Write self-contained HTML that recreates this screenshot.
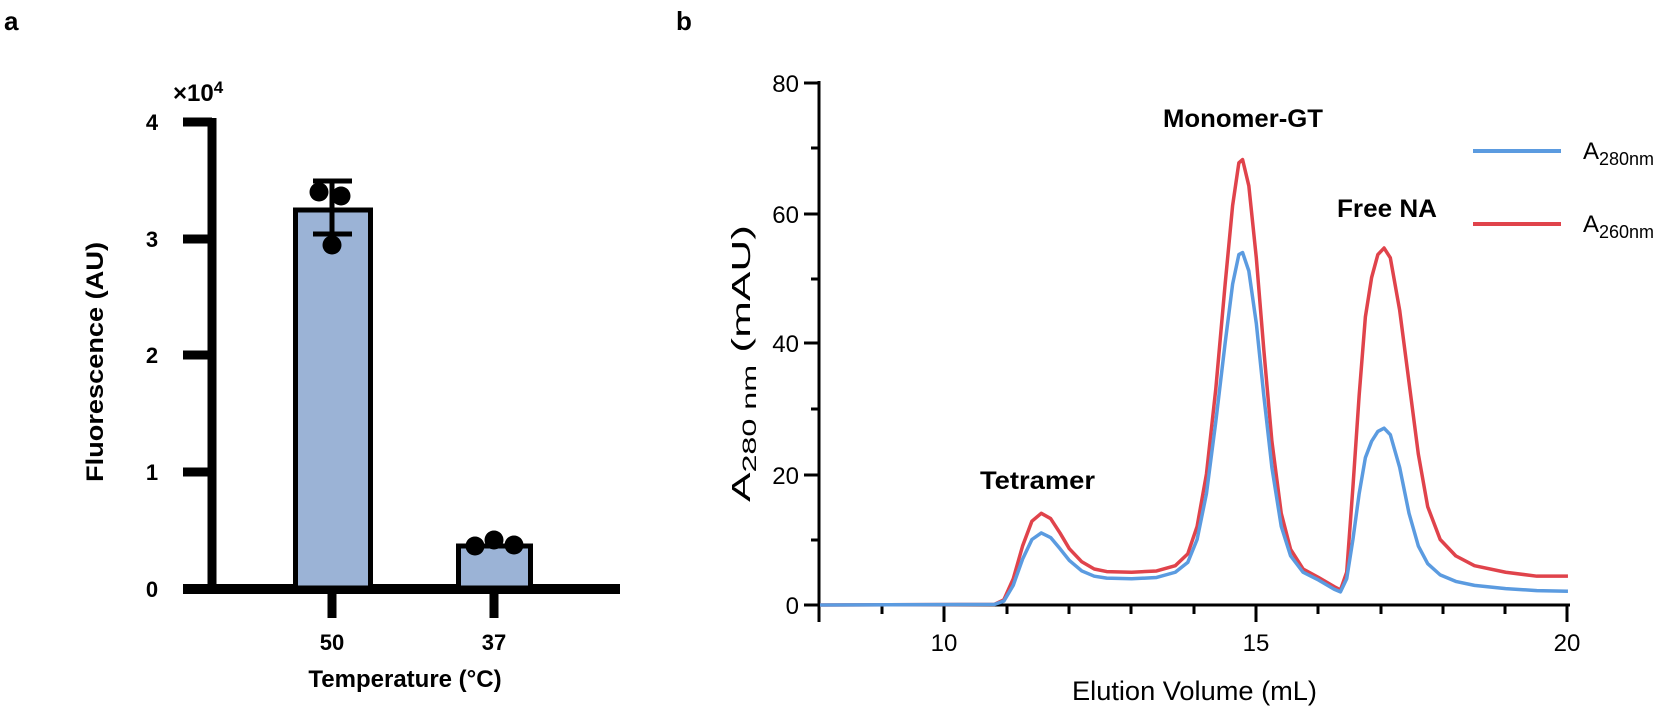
<!DOCTYPE html>
<html><head><meta charset="utf-8"><style>
html,body{margin:0;padding:0;background:#fff;}
svg{display:block;}
text{font-family:"Liberation Sans",Arial,sans-serif;}
.b{font-weight:bold;}
.n{font-family:"Liberation Sans Narrow","Liberation Sans",Arial,sans-serif;}
</style></head><body>
<svg width="1668" height="706" viewBox="0 0 1668 706" xmlns="http://www.w3.org/2000/svg">
<text x="4" y="30" class="b" font-size="26">a</text>
<text x="676" y="30" class="b" font-size="26">b</text>

<text x="173" y="101" class="b" font-size="24">×10<tspan font-size="17" dy="-8">4</tspan></text>
<g stroke="#000" stroke-width="9" fill="none">
  <line x1="212" y1="118" x2="212" y2="594"/>
  <line x1="183" y1="589" x2="620" y2="589" stroke-width="10"/>
  <line x1="183" y1="122" x2="212" y2="122"/>
  <line x1="183" y1="239" x2="212" y2="239"/>
  <line x1="183" y1="355" x2="212" y2="355"/>
  <line x1="183" y1="472" x2="212" y2="472"/>
  <line x1="332" y1="594" x2="332" y2="618"/>
  <line x1="494" y1="594" x2="494" y2="618"/>
</g>
<g class="b" font-size="22" text-anchor="middle">
  <text x="152" y="130">4</text>
  <text x="152" y="247">3</text>
  <text x="152" y="363">2</text>
  <text x="152" y="480">1</text>
  <text x="152" y="597">0</text>
  <text x="332" y="650">50</text>
  <text x="494" y="650">37</text>
  <text x="405" y="687" font-size="24">Temperature (°C)</text>
  <text transform="translate(103,362) rotate(-90)" font-size="24" textLength="240" lengthAdjust="spacingAndGlyphs">Fluorescence (AU)</text>
</g>
<rect x="295.5" y="210" width="75" height="378" fill="#9bb3d6" stroke="#000" stroke-width="5"/>
<rect x="458.5" y="546" width="72" height="42" fill="#9bb3d6" stroke="#000" stroke-width="5"/>
<g stroke="#000" stroke-width="5">
  <line x1="332" y1="181" x2="332" y2="234"/>
  <line x1="313" y1="181" x2="352" y2="181"/>
  <line x1="313" y1="234" x2="352" y2="234"/>
</g>
<g fill="#000">
  <circle cx="319" cy="192" r="9.5"/>
  <circle cx="341" cy="196" r="9.5"/>
  <circle cx="332" cy="245" r="9.5"/>
  <circle cx="475" cy="546" r="9.5"/>
  <circle cx="494" cy="540" r="9.5"/>
  <circle cx="514" cy="545" r="9.5"/>
</g>

<g stroke="#000" stroke-width="3" fill="none">
  <line x1="819" y1="81" x2="819" y2="622"/>
  <line x1="819" y1="605" x2="1570" y2="605"/>
  <line x1="804" y1="83" x2="819" y2="83"/>
  <line x1="811" y1="148" x2="819" y2="148"/>
  <line x1="804" y1="214" x2="819" y2="214"/>
  <line x1="811" y1="279" x2="819" y2="279"/>
  <line x1="804" y1="343" x2="819" y2="343"/>
  <line x1="811" y1="409" x2="819" y2="409"/>
  <line x1="804" y1="475" x2="819" y2="475"/>
  <line x1="811" y1="540" x2="819" y2="540"/>
  <line x1="804" y1="605" x2="819" y2="605"/>
  <line x1="882" y1="605" x2="882" y2="614"/>
  <line x1="944" y1="605" x2="944" y2="622"/>
  <line x1="1007" y1="605" x2="1007" y2="614"/>
  <line x1="1069" y1="605" x2="1069" y2="614"/>
  <line x1="1131" y1="605" x2="1131" y2="614"/>
  <line x1="1194" y1="605" x2="1194" y2="614"/>
  <line x1="1256" y1="605" x2="1256" y2="622"/>
  <line x1="1318" y1="605" x2="1318" y2="614"/>
  <line x1="1381" y1="605" x2="1381" y2="614"/>
  <line x1="1443" y1="605" x2="1443" y2="614"/>
  <line x1="1505" y1="605" x2="1505" y2="614"/>
  <line x1="1567" y1="605" x2="1567" y2="622"/>
</g>
<g class="n" font-size="24" text-anchor="end">
  <text x="799" y="92">80</text>
  <text x="799" y="223">60</text>
  <text x="799" y="352">40</text>
  <text x="799" y="484">20</text>
  <text x="799" y="614">0</text>
</g>
<g class="n" font-size="24" text-anchor="middle">
  <text x="944" y="651">10</text>
  <text x="1256" y="651">15</text>
  <text x="1567" y="651">20</text>
</g>
<text x="1072" y="700" font-size="27" textLength="245" lengthAdjust="spacingAndGlyphs">Elution Volume (mL)</text>
<text transform="translate(750,502) rotate(-90)" font-size="26" textLength="277" lengthAdjust="spacingAndGlyphs">A<tspan font-size="19" dy="6">280 nm</tspan><tspan dy="-6"> (mAU)</tspan></text>

<g class="b" font-size="25">
  <text x="980" y="489" textLength="115" lengthAdjust="spacingAndGlyphs">Tetramer</text>
  <text x="1163" y="127" textLength="160" lengthAdjust="spacingAndGlyphs">Monomer-GT</text>
  <text x="1337" y="217" textLength="100" lengthAdjust="spacingAndGlyphs">Free NA</text>
</g>

<g transform="translate(820,605) scale(62.33,-6.55)" fill="none" stroke-linejoin="round">
<polyline vector-effect="non-scaling-stroke" stroke="#e0434b" stroke-width="3.5" points="
0,0 2.8,0.1 2.95,0.8 3.1,4 3.25,9 3.4,12.8 3.55,14 3.7,13.2 3.85,11 4.0,8.6 4.2,6.6 4.4,5.5 4.6,5.1 5.0,5.0 5.4,5.2 5.7,6.0 5.9,7.8 6.05,12 6.2,20 6.35,33 6.5,49 6.62,61 6.72,67.5 6.78,68 6.88,64 7.0,53 7.12,39 7.25,25 7.4,14 7.55,8.5 7.75,5.5 8.0,4.2 8.25,2.8 8.35,2.3 8.45,5 8.55,18 8.65,32 8.75,44 8.85,50 8.95,53.5 9.05,54.5 9.15,53 9.3,45 9.45,34 9.6,23 9.75,15 9.95,10 10.2,7.5 10.5,6 11.0,5 11.5,4.4 12,4.4"/>
<polyline vector-effect="non-scaling-stroke" stroke="#5b9be0" stroke-width="3.5" points="
0,0 2.8,0.1 2.95,0.6 3.1,3 3.25,7 3.4,10 3.55,11 3.7,10.3 3.85,8.6 4.0,6.8 4.2,5.2 4.4,4.4 4.6,4.1 5.0,4.0 5.4,4.2 5.7,5.0 5.9,6.5 6.05,10 6.2,17 6.35,28 6.5,40 6.62,49 6.72,53.5 6.78,53.8 6.88,51 7.0,43 7.12,32 7.25,21 7.4,12 7.55,7.5 7.75,5 8.0,3.8 8.25,2.4 8.35,2.0 8.45,4 8.55,10 8.65,17 8.75,22.5 8.85,25 8.95,26.5 9.05,27 9.15,26 9.3,21 9.45,14 9.6,9 9.75,6.3 9.95,4.6 10.2,3.6 10.5,3.0 11.0,2.5 11.5,2.2 12,2.1"/>
</g>

<line x1="1473" y1="151" x2="1561" y2="151" stroke="#5b9be0" stroke-width="4"/>
<line x1="1473" y1="224" x2="1561" y2="224" stroke="#e0434b" stroke-width="4"/>
<text x="1583" y="159" font-size="24">A<tspan font-size="18" dy="6">280nm</tspan></text>
<text x="1583" y="232" font-size="24">A<tspan font-size="18" dy="6">260nm</tspan></text>
</svg>
</body></html>
